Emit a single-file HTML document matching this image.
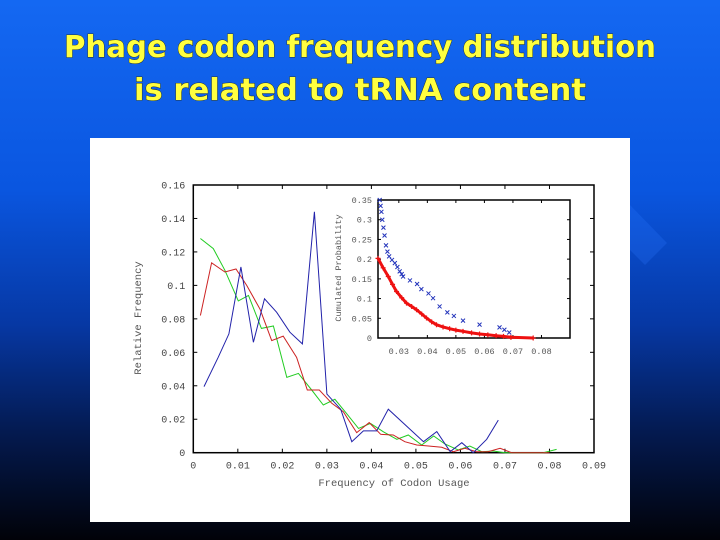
<!DOCTYPE html>
<html><head><meta charset="utf-8"><style>
html,body{margin:0;padding:0;width:720px;height:540px;overflow:hidden;background:#000}
svg{display:block}
</style></head><body>
<svg width="720" height="540" viewBox="0 0 720 540" xmlns="http://www.w3.org/2000/svg">
<defs>
<linearGradient id="bg" x1="0" y1="0" x2="0" y2="1">
<stop offset="0" stop-color="#1468f2"/>
<stop offset="0.35" stop-color="#0a56e0"/>
<stop offset="0.6" stop-color="#0638a4"/>
<stop offset="0.8" stop-color="#041a50"/>
<stop offset="1" stop-color="#010208"/>
</linearGradient>
</defs>
<rect width="720" height="540" fill="url(#bg)"/>
<polygon points="630,205 667,243 645,265 608,228" fill="#2a78ff" opacity="0.25"/>
<g font-family="'DejaVu Sans', sans-serif" font-weight="bold" font-size="30" fill="#ffff40" stroke="#2a2a00" stroke-width="0.8" style="paint-order:stroke">
<text x="360" y="57" text-anchor="middle" textLength="592" lengthAdjust="spacingAndGlyphs">Phage codon frequency distribution</text>
<text x="360" y="100" text-anchor="middle" textLength="452" lengthAdjust="spacingAndGlyphs">is related to tRNA content</text>
</g>
<rect x="90" y="138" width="540" height="384" fill="#fff"/>
<g id="chart"></g>
</svg>
<script>
const xTicks=["0","0.01","0.02","0.03","0.04","0.05","0.06","0.07","0.08","0.09"];
const yTicks=["0","0.02","0.04","0.06","0.08","0.1","0.12","0.14","0.16"];
const blueX=[0.0024,0.0056,0.008,0.0107,0.0135,0.016,0.0187,0.0217,0.0245,0.0272,0.030,0.0331,0.0356,0.0382,0.0412,0.0438,0.0517,0.0547,0.0577,0.0603,0.0629,0.0659,0.0685];
const blueY=[0.0395,0.057,0.071,0.111,0.066,0.092,0.084,0.072,0.065,0.144,0.035,0.026,0.0066,0.013,0.013,0.026,0.0066,0.0126,0.0006,0.006,0,0.008,0.0195];
const redX=[0.0016,0.0041,0.0071,0.0096,0.012,0.015,0.0176,0.0202,0.0232,0.0256,0.0283,0.0311,0.0337,0.0367,0.0395,0.0421,0.0449,0.0475,0.0502,0.0528,0.0558,0.0584,0.061,0.0636,0.0662,0.0689,0.0715,0.076,0.08];
const redY=[0.082,0.1135,0.108,0.1098,0.100,0.0857,0.067,0.0697,0.057,0.0375,0.0375,0.0295,0.0245,0.012,0.018,0.011,0.0106,0.0066,0.0046,0.004,0.0032,0.0006,0.0026,0.0006,0.0006,0.0026,0,0,0];
const greenX=[0.0016,0.0045,0.0071,0.0101,0.0124,0.0153,0.018,0.021,0.0236,0.0266,0.0292,0.0318,0.0344,0.0371,0.0398,0.0427,0.0457,0.0483,0.0513,0.054,0.0565,0.0595,0.0621,0.0648,0.0674,0.07,0.0756,0.0786,0.0816];
const greenY=[0.128,0.122,0.109,0.0907,0.094,0.0743,0.0757,0.045,0.0474,0.0375,0.0285,0.0319,0.0235,0.0145,0.0175,0.0125,0.008,0.0106,0.0046,0.01,0.0052,0.0016,0.004,0.0006,0.001,0,0,0,0.002];
const insetXTicks=["0.03","0.04","0.05","0.06","0.07","0.08"];
const insetYTicks=["0","0.05","0.1","0.15","0.2","0.25","0.3","0.35"];
const cumBlueX=[0.0233,0.0236,0.0239,0.0242,0.0246,0.0250,0.0255,0.0260,0.0266,0.0276,0.0286,0.0295,0.0303,0.0310,0.0315,0.0339,0.0364,0.0379,0.0404,0.042,0.0443,0.047,0.0493,0.0525,0.0583,0.0653,0.067,0.0687];
const cumBlueY=[0.35,0.335,0.32,0.30,0.28,0.26,0.235,0.219,0.207,0.198,0.19,0.18,0.169,0.162,0.156,0.146,0.137,0.124,0.113,0.101,0.080,0.065,0.056,0.044,0.034,0.027,0.021,0.014];
const cumRedX=[0.0227,0.0245,0.0263,0.0278,0.0292,0.0310,0.0327,0.0345,0.0362,0.0380,0.0397,0.0415,0.0432,0.0455,0.0478,0.0500,0.0525,0.0555,0.0583,0.0612,0.0641,0.0667,0.0693,0.0771];
const cumRedY=[0.202,0.178,0.156,0.136,0.118,0.102,0.0885,0.080,0.0717,0.061,0.0506,0.041,0.0337,0.028,0.0236,0.020,0.0169,0.013,0.0101,0.008,0.0059,0.004,0.0017,0];

const NS="http://www.w3.org/2000/svg";
const root=document.getElementById('chart');
function mk(tag,attrs,parent){const e=document.createElementNS(NS,tag);for(const k in attrs)e.setAttribute(k,attrs[k]);(parent||root).appendChild(e);return e;}
const L=193.3,R=594,T=185,B=452.7;
const sx=v=>L+(v/0.09)*(R-L);
const sy=v=>B-(v/0.16)*(B-T);
const font="'Liberation Mono', 'DejaVu Sans Mono', monospace";
const frame=mk('rect',{x:L,y:T,width:R-L,height:B-T,fill:'none',stroke:'#000','stroke-width':1.5});


xTicks.forEach((t,i)=>{const v=i*0.01;const x=sx(v);
 const a=mk('line',{x1:x,y1:B,x2:x,y2:B-4,stroke:'#000'});
 const b=mk('line',{x1:x,y1:T,x2:x,y2:T+4,stroke:'#000'});
 const tx=mk('text',{x:x,y:B+16,'text-anchor':'middle','font-family':font,'font-size':10,fill:'#444'});tx.textContent=t;});
yTicks.forEach((t,i)=>{const v=i*0.02;const y=sy(v);
 const a=mk('line',{x1:L,y1:y,x2:L+4,y2:y,stroke:'#000'});
 const b=mk('line',{x1:R,y1:y,x2:R-4,y2:y,stroke:'#000'});
 const tx=mk('text',{x:L-8,y:y+3.5,'text-anchor':'end','font-family':font,'font-size':10,fill:'#444'});tx.textContent=t;});
const xt=mk('text',{x:394,y:486,'text-anchor':'middle','font-family':font,'font-size':10.5,fill:'#555'});xt.textContent='Frequency of Codon Usage';


const yt=mk('text',{x:0,y:0,'text-anchor':'middle','font-family':font,'font-size':10.5,fill:'#555',transform:'translate(141,318) rotate(-90)'});yt.textContent='Relative Frequency';


function line(xs,ys,color,name,fx,fy,w){const pts=xs.map((x,i)=>fx(x).toFixed(1)+','+fy(ys[i]).toFixed(1)).join(' ');
 const p=mk('polyline',{points:pts,fill:'none',stroke:color,'stroke-width':w||1});return p;}
line(greenX,greenY,'#22cc22','series-green',sx,sy);
line(redX,redY,'#cc2222','series-red',sx,sy);
line(blueX,blueY,'#2222aa','series-blue',sx,sy);
const iL=378,iR=570,iT=200,iB=338;
const isx=v=>iL+(v-0.0227)/0.0673*(iR-iL);
const isy=v=>iB-(v/0.35)*(iB-iT);
const ibg=mk('rect',{x:iL,y:iT,width:iR-iL,height:iB-iT,fill:'#fff',stroke:'#000','stroke-width':1.5});


insetXTicks.forEach((t,i)=>{const v=0.03+i*0.01;const x=isx(v);
 const a=mk('line',{x1:x,y1:iB,x2:x,y2:iB-3,stroke:'#000'});
 const b=mk('line',{x1:x,y1:iT,x2:x,y2:iT+3,stroke:'#000'});
 const tx=mk('text',{x:x,y:iB+16,'text-anchor':'middle','font-family':font,'font-size':8.5,fill:'#555'});tx.textContent=t;});
insetYTicks.forEach((t,i)=>{const v=i*0.05;const y=isy(v);
 const a=mk('line',{x1:iL,y1:y,x2:iL+3,y2:y,stroke:'#000'});
 const b=mk('line',{x1:iR,y1:y,x2:iR-3,y2:y,stroke:'#000'});
 const tx=mk('text',{x:iL-6,y:y+3,'text-anchor':'end','font-family':font,'font-size':8.5,fill:'#555'});tx.textContent=t;});
const iyt=mk('text',{x:0,y:0,'text-anchor':'middle','font-family':font,'font-size':8.5,fill:'#555',transform:'translate(341,268) rotate(-90)'});iyt.textContent='Cumulated Probability';


line(cumRedX,cumRedY,'#ee1111','inset-red-curve',isx,isy,3);
cumRedX.forEach((x,i)=>{const cx=isx(x),cy=isy(cumRedY[i]);
 const m=mk('path',{d:`M${cx-2.5},${cy}h5M${cx},${cy-2.5}v5`,stroke:'#ee1111','stroke-width':1.2});});
cumBlueX.forEach((x,i)=>{const cx=isx(x),cy=isy(cumBlueY[i]);
 const m=mk('path',{d:`M${cx-2},${cy-2}l4,4M${cx-2},${cy+2}l4,-4`,stroke:'#2233bb','stroke-width':1});});
</script>
</body></html>
